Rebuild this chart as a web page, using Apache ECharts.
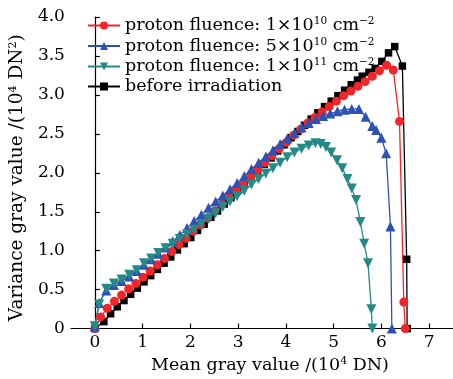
<!DOCTYPE html>
<html>
<head>
<meta charset="utf-8">
<script src="https://cdn.jsdelivr.net/npm/echarts@6/dist/echarts.min.js"></script>
<style>html,body{margin:0;padding:0;background:#fff}#c{width:453px;height:379px}</style>
</head>
<body>
<div id="c"></div>
<script>
var seriesNames = [
  'proton fluence: 1×10{sup|10} cm{sup|−2}',
  'proton fluence: 5×10{sup|10} cm{sup|−2}',
  'proton fluence: 1×10{sup|11} cm{sup|−2}',
  'before irradiation'
];
var xTicks = [0, 1, 2, 3, 4, 5, 6, 7];

var redX = [0, 0.12, 0.26, 0.41, 0.56, 0.71, 0.86, 1.01, 1.16, 1.31, 1.46, 1.61, 1.76, 1.91, 2.06, 2.21, 2.36, 2.51, 2.66, 2.81, 2.96, 3.11, 3.26, 3.41, 3.56, 3.71, 3.86, 4.01, 4.16, 4.31, 4.46, 4.61, 4.76, 4.91, 5.06, 5.21, 5.36, 5.51, 5.66, 5.81, 5.96, 6.11, 6.25, 6.38, 6.47, 6.50];
var redY = [0, 0.15, 0.26, 0.35, 0.43, 0.51, 0.58, 0.66, 0.74, 0.82, 0.90, 0.99, 1.08, 1.16, 1.25, 1.33, 1.42, 1.51, 1.60, 1.69, 1.78, 1.86, 1.95, 2.04, 2.13, 2.22, 2.31, 2.39, 2.48, 2.56, 2.64, 2.71, 2.78, 2.85, 2.92, 2.99, 3.05, 3.11, 3.17, 3.24, 3.31, 3.38, 3.32, 2.66, 0.34, 0.0];

var blueX = [0, 0.09, 0.24, 0.40, 0.56, 0.72, 0.88, 1.03, 1.18, 1.33, 1.48, 1.63, 1.78, 1.93, 2.08, 2.23, 2.38, 2.53, 2.68, 2.83, 2.98, 3.13, 3.28, 3.43, 3.58, 3.73, 3.88, 4.03, 4.18, 4.33, 4.48, 4.63, 4.78, 4.93, 5.08, 5.23, 5.38, 5.53, 5.67, 5.81, 5.89, 6.00, 6.10, 6.19, 6.22];
var blueY = [0.03, 0.33, 0.49, 0.56, 0.61, 0.67, 0.74, 0.82, 0.89, 0.96, 1.04, 1.12, 1.20, 1.29, 1.38, 1.46, 1.55, 1.63, 1.71, 1.79, 1.87, 1.96, 2.05, 2.13, 2.21, 2.29, 2.37, 2.44, 2.51, 2.58, 2.64, 2.69, 2.73, 2.76, 2.79, 2.81, 2.82, 2.82, 2.72, 2.60, 2.55, 2.45, 2.25, 1.31, 0.0];

var tealX = [0, 0.09, 0.24, 0.40, 0.56, 0.72, 0.88, 1.03, 1.18, 1.33, 1.48, 1.63, 1.78, 1.93, 2.08, 2.23, 2.38, 2.53, 2.68, 2.83, 2.98, 3.13, 3.28, 3.43, 3.58, 3.73, 3.88, 4.03, 4.18, 4.33, 4.48, 4.62, 4.73, 4.84, 4.95, 5.07, 5.18, 5.29, 5.38, 5.47, 5.56, 5.64, 5.72, 5.79, 5.81];
var tealY = [0.03, 0.31, 0.51, 0.58, 0.63, 0.69, 0.75, 0.84, 0.90, 0.97, 1.03, 1.09, 1.15, 1.21, 1.27, 1.34, 1.41, 1.48, 1.56, 1.63, 1.70, 1.77, 1.85, 1.92, 1.99, 2.06, 2.13, 2.20, 2.26, 2.31, 2.35, 2.38, 2.37, 2.33, 2.26, 2.16, 2.06, 1.92, 1.80, 1.65, 1.37, 1.09, 0.84, 0.25, 0.0];

var blackX = [0, 0.19, 0.33, 0.47, 0.61, 0.75, 0.89, 1.03, 1.17, 1.31, 1.45, 1.59, 1.73, 1.87, 2.01, 2.15, 2.29, 2.43, 2.57, 2.71, 2.85, 2.99, 3.13, 3.27, 3.41, 3.55, 3.69, 3.83, 3.97, 4.11, 4.25, 4.39, 4.53, 4.67, 4.81, 4.95, 5.09, 5.23, 5.37, 5.50, 5.60, 5.74, 5.87, 6.01, 6.15, 6.28, 6.44, 6.53, 6.54];
var blackY = [0, 0.09, 0.19, 0.28, 0.36, 0.44, 0.52, 0.60, 0.68, 0.76, 0.84, 0.92, 1.01, 1.09, 1.17, 1.26, 1.34, 1.43, 1.51, 1.60, 1.68, 1.77, 1.85, 1.94, 2.02, 2.11, 2.19, 2.28, 2.36, 2.45, 2.53, 2.61, 2.69, 2.77, 2.85, 2.92, 2.99, 3.06, 3.13, 3.19, 3.24, 3.29, 3.34, 3.43, 3.54, 3.62, 3.37, 0.89, 0.0];

function pairs(xs, ys) { return xs.map(function (x, i) { return [x, ys[i]]; }); }

var FONT = 'DejaVu Serif';
function sup(size) { return { fontSize: size, fontFamily: FONT, color: '#000', padding: [0, 0, 8, 0] }; }

var chart = echarts.init(document.getElementById('c'), null, { renderer: 'canvas' });
function mk(name, xs, ys, color, symbol, size, rot) {
  return {
    name: name, type: 'line', data: pairs(xs, ys),
    symbol: symbol, symbolSize: size, symbolRotate: rot || 0,
    showSymbol: true, animation: false,
    lineStyle: { color: color, width: 1.3 },
    itemStyle: { color: color, borderWidth: 0 }
  };
}
chart.setOption({
  animation: false,
  grid: { left: 67, right: -4, top: 17, bottom: 49 },
  legend: {
    data: seriesNames,
    orient: 'vertical', left: 82, top: 11,
    itemWidth: 32, itemHeight: 10, itemGap: 2,
    textStyle: { fontSize: 17.5, fontFamily: FONT, color: '#000', rich: { sup: sup(10.5) } }
  },
  xAxis: {
    type: 'value', min: -0.5, max: 7.5,
    name: 'Mean gray value /(10{sup|4} DN)',
    nameLocation: 'middle', nameGap: 24,
    nameTextStyle: { fontSize: 17.5, fontFamily: FONT, color: '#000', padding: [0, 0, 0, 16], rich: { sup: sup(11) } },
    axisLine: { show: true, onZero: false, lineStyle: { color: '#000', width: 1.2 } },
    axisTick: { show: true, inside: true, length: 5, customValues: xTicks, lineStyle: { color: '#000', width: 1.2 } },
    axisLabel: { customValues: xTicks, fontSize: 17, fontFamily: FONT, color: '#000', margin: 5 },
    splitLine: { show: false }
  },
  yAxis: {
    type: 'value', min: 0, max: 4, interval: 0.5,
    name: 'Variance gray value /(10{sup|4} DN{sup|2})',
    nameLocation: 'middle', nameGap: 37, nameRotate: 90,
    nameTextStyle: { fontSize: 18.5, fontFamily: FONT, color: '#000', padding: [0, 10, 0, 0], rich: { sup: sup(11) } },
    axisLine: { show: true, lineStyle: { color: '#000', width: 1.2 } },
    axisTick: { show: true, inside: true, length: 5, lineStyle: { color: '#000', width: 1.2 } },
    axisLabel: { fontSize: 17, fontFamily: FONT, color: '#000', margin: 6,
      formatter: function (v) { return v === 0 ? '0' : v.toFixed(1); } },
    splitLine: { show: false }
  },
  series: [
    mk(seriesNames[3], blackX, blackY, '#000000', 'rect', 7.5),
    mk(seriesNames[0], redX, redY, '#f42528', 'circle', 9),
    mk(seriesNames[1], blueX, blueY, '#2d52b5', 'triangle', 10),
    mk(seriesNames[2], tealX, tealY, '#258a86', 'triangle', 10, 180)
  ]
});
</script>
</body>
</html>
